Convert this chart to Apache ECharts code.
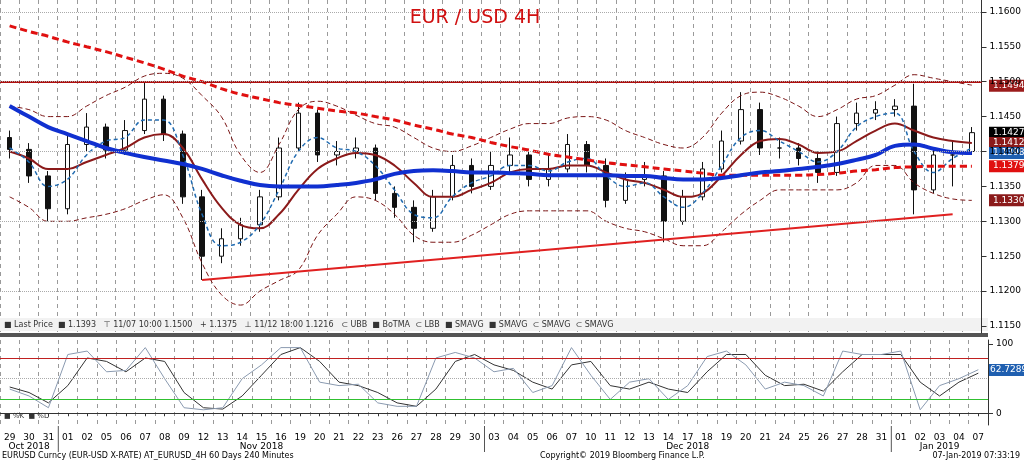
<!DOCTYPE html>
<html><head><meta charset="utf-8">
<script src="https://cdn.jsdelivr.net/npm/echarts@6/dist/echarts.min.js"></script>
<style>html,body{margin:0;padding:0;background:#fff}#c{width:1024px;height:463px}</style>
</head><body><div id="c"></div>
<script>
const days = ['29','30','31','01','02','05','06','07','08','09','12','13','14','15','16','19','20','21','22','23','26','27','28','29','30','03','04','05','06','07','10','11','12','13','14','17','18','19','20','21','24','25','26','27','28','31','01','02','03','04','07'];
const months = [{idx:1,label:'Oct 2018'},{idx:13,label:'Nov 2018'},{idx:35,label:'Dec 2018'},{idx:48,label:'Jan 2019'}];
const monthStarts = [3,25,46];
const closes = [1.1403,1.1365,1.1318,1.1410,1.1435,1.1402,1.1430,1.1475,1.1425,1.1335,1.1250,1.1275,1.1295,1.1335,1.1405,1.1455,1.1395,1.1400,1.1405,1.1340,1.1320,1.1290,1.1335,1.1380,1.1350,1.1380,1.1395,1.1360,1.1375,1.1410,1.1380,1.1330,1.1360,1.1365,1.1300,1.1335,1.1375,1.1415,1.1460,1.1405,1.1405,1.1390,1.1370,1.1440,1.1455,1.1460,1.1465,1.1345,1.1395,1.1395,1.1427];
const opens  = [1.1420,1.1403,1.1365,1.1318,1.1410,1.1435,1.1402,1.1430,1.1475,1.1425,1.1335,1.1250,1.1275,1.1295,1.1335,1.1405,1.1455,1.1395,1.1400,1.1405,1.1340,1.1320,1.1290,1.1335,1.1380,1.1350,1.1380,1.1395,1.1360,1.1375,1.1410,1.1380,1.1330,1.1360,1.1365,1.1300,1.1335,1.1375,1.1415,1.1460,1.1405,1.1405,1.1390,1.1370,1.1440,1.1455,1.1460,1.1465,1.1345,1.1395,1.1400];
const highs  = [1.1430,1.1412,1.1372,1.1425,1.1455,1.1440,1.1445,1.1500,1.1480,1.1430,1.1345,1.1290,1.1305,1.1345,1.1420,1.1470,1.1460,1.1415,1.1420,1.1410,1.1350,1.1330,1.1345,1.1395,1.1390,1.1400,1.1420,1.1400,1.1395,1.1425,1.1415,1.1390,1.1370,1.1385,1.1372,1.1345,1.1385,1.1430,1.1485,1.1470,1.1420,1.1412,1.1400,1.1450,1.1470,1.1472,1.1475,1.1497,1.1405,1.1415,1.1435];
const lows   = [1.1390,1.1355,1.1300,1.1310,1.1400,1.1390,1.1395,1.1425,1.1415,1.1325,1.1216,1.1240,1.1265,1.1285,1.1330,1.1400,1.1385,1.1380,1.1390,1.1330,1.1305,1.1270,1.1285,1.1330,1.1340,1.1345,1.1370,1.1350,1.1350,1.1370,1.1370,1.1320,1.1325,1.1350,1.1270,1.1295,1.1330,1.1370,1.1410,1.1395,1.1390,1.1380,1.1355,1.1365,1.1430,1.1445,1.1450,1.1310,1.1340,1.1350,1.1395];
const smaBlue = [1.1465,1.1450,1.1435,1.1425,1.1415,1.1405,1.1398,1.1392,1.1387,1.1382,1.1375,1.1366,1.1358,1.1352,1.1350,1.1350,1.1350,1.1352,1.1355,1.1360,1.1368,1.1372,1.1373,1.1372,1.1370,1.1370,1.1369,1.1368,1.1366,1.1366,1.1366,1.1366,1.1365,1.1365,1.1362,1.1360,1.1360,1.1362,1.1366,1.1370,1.1372,1.1375,1.1378,1.1382,1.1388,1.1395,1.1408,1.1410,1.1404,1.1399,1.1398];
const ma100 = [1.1580,1.1572,1.1565,1.1557,1.1550,1.1543,1.1535,1.1527,1.1518,1.1508,1.1500,1.1490,1.1482,1.1476,1.1470,1.1466,1.1462,1.1458,1.1455,1.1450,1.1445,1.1438,1.1432,1.1425,1.1420,1.1413,1.1407,1.1402,1.1396,1.1392,1.1388,1.1384,1.1381,1.1378,1.1375,1.1372,1.1369,1.1366,1.1366,1.1366,1.1366,1.1366,1.1367,1.1369,1.1372,1.1374,1.1377,1.1378,1.1379,1.1379,1.1379];
const botma = [1.1400,1.1390,1.1375,1.1375,1.1385,1.1395,1.1405,1.1420,1.1425,1.1405,1.1360,1.1320,1.1295,1.1290,1.1310,1.1345,1.1375,1.1390,1.1398,1.1395,1.1380,1.1355,1.1335,1.1335,1.1345,1.1355,1.1370,1.1375,1.1375,1.1380,1.1380,1.1370,1.1360,1.1355,1.1345,1.1335,1.1340,1.1365,1.1395,1.1415,1.1418,1.1410,1.1398,1.1400,1.1415,1.1430,1.1440,1.1430,1.1420,1.1415,1.1412];
const ubb = [1.1465,1.1460,1.1450,1.1450,1.1465,1.1480,1.1492,1.1508,1.1512,1.1505,1.1480,1.1450,1.1395,1.1370,1.1410,1.1460,1.1472,1.1465,1.1452,1.1440,1.1435,1.1420,1.1405,1.1400,1.1408,1.1420,1.1432,1.1440,1.1440,1.1448,1.1450,1.1445,1.1430,1.1420,1.1410,1.1405,1.1420,1.1455,1.1480,1.1485,1.1478,1.1465,1.1450,1.1460,1.1475,1.1480,1.1495,1.1510,1.1505,1.1500,1.1495];
const lbb = [1.1335,1.1320,1.1300,1.1300,1.1305,1.1310,1.1318,1.1330,1.1338,1.1305,1.1240,1.1195,1.1180,1.1200,1.1215,1.1230,1.1280,1.1310,1.1335,1.1330,1.1310,1.1280,1.1270,1.1270,1.1280,1.1295,1.1310,1.1315,1.1315,1.1315,1.1315,1.1300,1.1290,1.1285,1.1275,1.1265,1.1265,1.1285,1.1310,1.1330,1.1345,1.1345,1.1345,1.1345,1.1355,1.1380,1.1380,1.1355,1.1340,1.1332,1.1330];
const smaFast = [1.1405,1.1385,1.1350,1.1360,1.1395,1.1415,1.1420,1.1445,1.1445,1.1395,1.1310,1.1265,1.1270,1.1295,1.1345,1.1400,1.1420,1.1405,1.1400,1.1380,1.1345,1.1310,1.1305,1.1335,1.1355,1.1365,1.1380,1.1380,1.1372,1.1385,1.1390,1.1365,1.1350,1.1355,1.1335,1.1320,1.1340,1.1380,1.1420,1.1430,1.1415,1.1400,1.1385,1.1400,1.1435,1.1450,1.1455,1.1400,1.1370,1.1390,1.1405];
const stochK = [35,25,8,85,90,60,62,95,50,8,5,8,50,70,95,95,45,40,42,15,10,10,80,88,80,60,65,30,40,95,55,20,45,50,20,40,82,90,70,35,45,40,25,90,85,85,90,5,40,50,63];
const stochD = [38,30,15,40,80,75,60,80,75,30,8,6,25,55,85,95,75,45,40,30,15,10,35,75,85,70,62,45,35,70,75,40,35,45,35,30,60,85,85,55,40,42,32,60,85,85,85,45,25,45,58];
const labelVals = [[1.1494,'#9b1c1c'],[1.1427,'#000'],[1.1412,'#8b1a1a'],[1.1398,'#1f5fb0'],[1.1379,'#e01010'],[1.1330,'#8b1a1a']];
const lastPriceLine = 1.1393;
const resistance = 1.1494;
const trendFrom = [10,1.1216], trendTo = [49,1.1310];

const ohlc = closes.map((c,i)=>[opens[i],c,lows[i],highs[i]]);
const chart = echarts.init(document.getElementById('c'));
const F = 'DejaVu Sans';
const ticks=[1.115,1.12,1.125,1.13,1.135,1.14,1.145,1.15,1.155,1.16];
const lineS = (name,data,color,width,type)=>({name,type:'line',data,xAxisIndex:0,yAxisIndex:0,symbol:'none',smooth:0.4,lineStyle:{color,width,type},z:3});
chart.setOption({
  animation:false,
  title:{text:'EUR / USD 4H',left:470,top:4,textAlign:'center',textStyle:{color:'#d01010',fontSize:19,fontWeight:'normal',fontFamily:F}},
  grid:[{left:0,right:36,top:0,height:333},{left:0,right:36,top:340,height:85}],
  xAxis:[
    {type:'category',data:days,gridIndex:0,axisLabel:{show:false},axisTick:{show:false},axisLine:{show:false},splitLine:{show:true,lineStyle:{color:'#9a9a9a',type:[4,4]}}},
    {type:'category',data:days,gridIndex:1,axisLabel:{fontSize:9,color:'#000',fontFamily:F,margin:8,interval:0},axisTick:{show:true,alignWithLabel:true,length:3},axisLine:{lineStyle:{color:'#333'}},splitLine:{show:true,lineStyle:{color:'#9a9a9a',type:[4,4]}}}
  ],
  yAxis:[
    {type:'value',gridIndex:0,position:'right',min:1.1140,max:1.1617,axisLabel:{formatter:v=>v.toFixed(4),fontSize:9,color:'#000',fontFamily:F,customValues:ticks},axisTick:{show:true,customValues:ticks},axisLine:{show:true,lineStyle:{color:'#333'}},splitLine:{show:false}},
    {type:'value',gridIndex:1,position:'right',min:-17,max:106,axisLabel:{fontSize:9,color:'#000',fontFamily:F,customValues:[0,100]},axisTick:{show:true,customValues:[0,100]},axisLine:{show:true,lineStyle:{color:'#333'}},splitLine:{show:false}}
  ],
  series:[
    {type:'line',data:[],xAxisIndex:0,yAxisIndex:0,markLine:{silent:true,symbol:'none',label:{show:false},data:[
      {yAxis:resistance,lineStyle:{color:'#b01010',width:2,type:'solid'}},
      {yAxis:lastPriceLine,lineStyle:{color:'#e0a020',width:1,type:'dotted'}},
      [{coord:trendFrom,lineStyle:{color:'#e02020',width:2,type:'solid'}},{coord:trendTo}]
    ]}},
    {type:'line',data:[],xAxisIndex:0,yAxisIndex:0,markLine:{silent:true,symbol:'none',label:{show:false},lineStyle:{color:'#aaa',width:1,type:'dotted'},data:ticks.map(v=>({yAxis:v}))}},
    {type:'candlestick',data:ohlc,xAxisIndex:0,yAxisIndex:0,barWidth:5,itemStyle:{color:'#fff',color0:'#111',borderColor:'#111',borderColor0:'#111',borderWidth:1},z:2},
    lineS('UBB',ubb,'#7a1515',1,[5,3]),
    lineS('LBB',lbb,'#7a1515',1,[5,3]),
    lineS('BoTMA',botma,'#8b1a1a',2,'solid'),
    lineS('SMAVG fast',smaFast,'#1f6ab0',1.5,[4,3]),
    lineS('SMAVG 100',ma100,'#e01010',3,[7,4]),
    lineS('SMAVG',smaBlue,'#1030d0',4,'solid'),
    {type:'line',data:stochD,xAxisIndex:1,yAxisIndex:1,symbol:'none',lineStyle:{color:'#333',width:1},z:2},
    {type:'line',data:stochK,xAxisIndex:1,yAxisIndex:1,symbol:'none',lineStyle:{color:'#8a9ab0',width:1},z:3,
     markLine:{silent:true,symbol:'none',label:{show:false},data:[{yAxis:80,lineStyle:{color:'#c02020',width:1,type:'solid'}},{yAxis:20,lineStyle:{color:'#30c030',width:1,type:'solid'}},{yAxis:50,lineStyle:{color:'#aaa',width:1,type:'dotted'}}]}}
  ]
});
const g=[];
labelVals.forEach(([v,c])=>{
  const y=chart.convertToPixel({yAxisIndex:0},v);
  g.push({type:'rect',shape:{x:989,y:y-6,width:35,height:12},style:{fill:c}});
  g.push({type:'text',x:993,y:y,style:{text:v.toFixed(4),fill:'#fff',font:'9px '+F,verticalAlign:'middle'}});
});
const ys=chart.convertToPixel({yAxisIndex:1},62.7289);
g.push({type:'rect',shape:{x:989,y:ys-6,width:35,height:12},style:{fill:'#1f5fb0'}});
g.push({type:'text',x:990,y:ys,style:{text:'62.7289',fill:'#fff',font:'9px '+F,verticalAlign:'middle'}});
g.push({type:'rect',shape:{x:0,y:318,width:988,height:13},style:{fill:'#f2f2f2'}});
g.push({type:'text',x:4,y:324.5,style:{text:'■ Last Price  ■ 1.1393   ⊤ 11/07 10:00 1.1500   + 1.1375   ⊥ 11/12 18:00 1.1216   ⊂ UBB  ■ BoTMA  ⊂ LBB  ■ SMAVG  ■ SMAVG  ⊂ SMAVG  ⊂ SMAVG',fill:'#333',font:'8px '+F,verticalAlign:'middle'}});
g.push({type:'rect',shape:{x:0,y:333,width:988,height:4},style:{fill:'#555'}});
g.push({type:'text',x:4,y:413,style:{text:'■ %K  ■ %D',fill:'#333',font:'7px '+F}});
months.forEach(m=>{const x=chart.convertToPixel({xAxisIndex:1},m.idx);g.push({type:'text',x:x,y:442,style:{text:m.label,fill:'#000',font:'9px '+F,align:'center'}});});
monthStarts.forEach(i=>{const x=chart.convertToPixel({xAxisIndex:1},i)-9.5;g.push({type:'line',shape:{x1:x,y1:426,x2:x,y2:452},style:{stroke:'#555',lineWidth:1}});});
g.push({type:'text',x:2,y:452,style:{text:'EURUSD Curncy (EUR-USD X-RATE) AT_EURUSD_4H 60 Days 240 Minutes',fill:'#000',font:'8px '+F}});
g.push({type:'text',x:540,y:452,style:{text:'Copyright© 2019 Bloomberg Finance L.P.',fill:'#000',font:'8px '+F}});
g.push({type:'text',x:1020,y:452,style:{text:'07-Jan-2019 07:33:19',fill:'#000',font:'8px '+F,align:'right'}});
chart.setOption({graphic:g});
</script></body></html>
